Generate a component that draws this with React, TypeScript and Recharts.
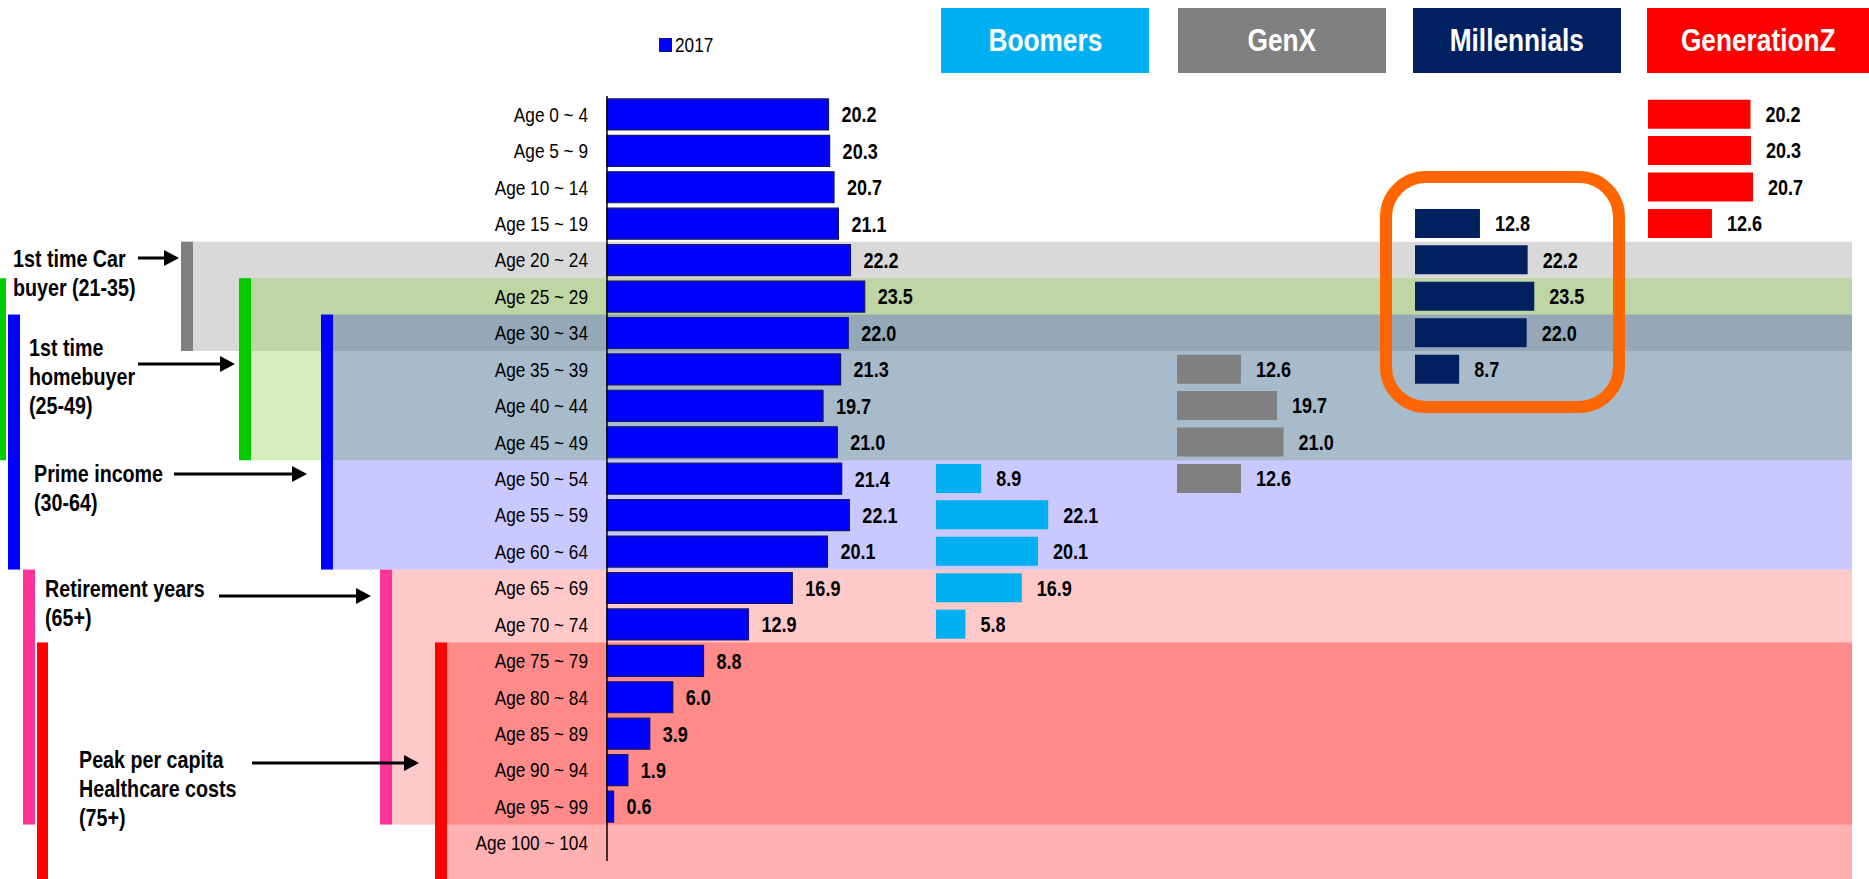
import React from "react";
import { BarChart, Bar, XAxis, YAxis, LabelList, Legend } from "recharts";

// age groups (rows), top to bottom
const ageGroups = [
  "Age 0 ~ 4", "Age 5 ~ 9", "Age 10 ~ 14", "Age 15 ~ 19", "Age 20 ~ 24",
  "Age 25 ~ 29", "Age 30 ~ 34", "Age 35 ~ 39", "Age 40 ~ 44", "Age 45 ~ 49",
  "Age 50 ~ 54", "Age 55 ~ 59", "Age 60 ~ 64", "Age 65 ~ 69", "Age 70 ~ 74",
  "Age 75 ~ 79", "Age 80 ~ 84", "Age 85 ~ 89", "Age 90 ~ 94", "Age 95 ~ 99",
  "Age 100 ~ 104",
];

// population (millions), 2017
const pop2017 = [
  20.2, 20.3, 20.7, 21.1, 22.2, 23.5, 22.0, 21.3, 19.7, 21.0, 21.4,
  22.1, 20.1, 16.9, 12.9, 8.8, 6.0, 3.9, 1.9, 0.6, null,
];
const boomersPop = [
  null, null, null, null, null, null, null, null, null, null, 8.9,
  22.1, 20.1, 16.9, 5.8, null, null, null, null, null, null,
];
const genXPop = [
  null, null, null, null, null, null, null, 12.6, 19.7, 21.0, 12.6,
  null, null, null, null, null, null, null, null, null, null,
];
const millennialsPop = [
  null, null, null, 12.8, 22.2, 23.5, 22.0, 8.7, null, null, null,
  null, null, null, null, null, null, null, null, null, null,
];
const genZPop = [
  20.2, 20.3, 20.7, 12.6, null, null, null, null, null, null, null,
  null, null, null, null, null, null, null, null, null, null,
];

const rows = ageGroups.map((age, i) => ({
  age,
  y2017: pop2017[i],
  boomers: boomersPop[i],
  genX: genXPop[i],
  millennials: millennialsPop[i],
  genZ: genZPop[i],
}));

// life stages: first / last age group (null = runs off the bottom)
const stageFrom = ["Age 20 ~ 24", "Age 25 ~ 29", "Age 30 ~ 34", "Age 65 ~ 69", "Age 75 ~ 79"];
const stageTo = ["Age 30 ~ 34", "Age 45 ~ 49", "Age 60 ~ 64", "Age 95 ~ 99", null];
const stageText = [
  ["1st time Car", "buyer (21-35)"],
  ["1st time", "homebuyer", "(25-49)"],
  ["Prime income", "(30-64)"],
  ["Retirement years", "(65+)"],
  ["Peak per capita", "Healthcare costs", "(75+)"],
];

const FONT = '"Liberation Sans", Arial, sans-serif';
const NARROW = 0.82; // no Arial Narrow here, squeeze Liberation Sans instead
const W = 1869;
const H = 879;
const TOP = 96;
const BOTTOM = 18;
const ROW_H = (H - TOP - BOTTOM) / ageGroups.length;

// annotation layer layout
const bandStyle = [
  { x: 193, fill: "#000000", op: 0.15, mark: "#808080", mx: 181, outer: null as number | null, ow: 0 },
  { x: 251, fill: "#92d050", op: 0.38, mark: "#00cc00", mx: 239, outer: 0, ow: 6 },
  { x: 333, fill: "#0000ff", op: 0.21, mark: "#0000ff", mx: 321, outer: 8, ow: 12 },
  { x: 392, fill: "#ff0000", op: 0.21, mark: "#ff3399", mx: 380, outer: 23, ow: 12 },
  { x: 447, fill: "#ff0000", op: 0.31, mark: "#ff0000", mx: 435, outer: 37, ow: 11 },
];
const textPos = [
  { x: 13, y: 258 },
  { x: 29, y: 347 },
  { x: 34, y: 473 },
  { x: 45, y: 588 },
  { x: 79, y: 759 },
];
const arrows = [
  { x1: 138, x2: 179, y: 258 },
  { x1: 138, x2: 235, y: 364 },
  { x1: 174, x2: 307, y: 474 },
  { x1: 219, x2: 371, y: 596 },
  { x1: 252, x2: 419, y: 763 },
];

const generations = [
  { key: "boomers", name: "Boomers", color: "#00b0f0", axisX: 936, box: [941, 208] },
  { key: "genX", name: "GenX", color: "#808080", axisX: 1177, box: [1178, 208] },
  { key: "millennials", name: "Millennials", color: "#002060", axisX: 1415, box: [1413, 208] },
  { key: "genZ", name: "GenerationZ", color: "#ff0000", axisX: 1648, box: [1647, 222] },
];

const rowTop = (age: string) => TOP + ageGroups.indexOf(age) * ROW_H;
const rowBottom = (age: string | null) => (age ? TOP + (ageGroups.indexOf(age) + 1) * ROW_H : H);

const fmt = (v: any) => (v == null ? "" : Number(v).toFixed(1));

const NarrowText = ({ children, origin = "left" }: { children: any; origin?: string }) => (
  <span style={{ display: "inline-block", transform: `scaleX(${NARROW})`, transformOrigin: origin, whiteSpace: "nowrap" }}>
    {children}
  </span>
);

const AgeTick = (props: any) => {
  const { x, y, payload } = props;
  return (
    <text
      transform={`translate(${x},${y}) scale(${NARROW},1)`}
      textAnchor="end"
      dy="0.355em"
      fontSize={21}
      fill="#000"
      fontFamily={FONT}
    >
      {payload.value}
    </text>
  );
};

const valueLabel = (offset: number) => (props: any) => {
  const { x, y, width, height, value } = props;
  if (value == null) return null;
  return (
    <text
      transform={`translate(${x + width + offset},${y + height / 2}) scale(${NARROW},1)`}
      dy="0.355em"
      fontSize={22}
      fontWeight={700}
      fill="#000"
      fontFamily={FONT}
    >
      {fmt(value)}
    </text>
  );
};

const LegendBox = () => (
  <div style={{ display: "flex", alignItems: "center", color: "#000", fontSize: 21, fontFamily: FONT }}>
    <span style={{ width: 11, height: 12, background: "#0000ff", border: "1px solid #16166e", marginRight: 3 }} />
    <NarrowText>2017</NarrowText>
  </div>
);

const MainPanel = () => (
  <BarChart
    width={529}
    height={H}
    data={rows}
    layout="vertical"
    margin={{ top: TOP, right: 0, bottom: BOTTOM, left: 0 }}
    barCategoryGap="8%"
  >
    <XAxis type="number" domain={[0, 30]} hide />
    <YAxis
      type="category"
      dataKey="age"
      width={200}
      interval={0}
      tickLine={false}
      tickSize={0}
      tickMargin={19}
      axisLine={{ stroke: "#000", strokeWidth: 1.5 }}
      tick={<AgeTick />}
    />
    <Legend
      layout="horizontal"
      verticalAlign="middle"
      align="center"
      content={<LegendBox />}
      wrapperStyle={{ top: 33, left: 252, width: "auto", height: "auto" }}
    />
    <Bar dataKey="y2017" name="2017" fill="#0000ff" stroke="#16166e" strokeWidth={1.2} isAnimationActive={false}>
      <LabelList dataKey="y2017" content={valueLabel(13)} />
    </Bar>
  </BarChart>
);

const GenPanel = ({ g }: { g: (typeof generations)[number] }) => (
  <BarChart
    width={203}
    height={H}
    data={rows}
    layout="vertical"
    margin={{ top: TOP, right: 0, bottom: BOTTOM, left: 0 }}
    barCategoryGap="10%"
  >
    <XAxis type="number" domain={[0, 40]} hide />
    <YAxis type="category" dataKey="age" width={0} tick={false} tickLine={false} axisLine={{ stroke: "#000", strokeWidth: 1.5 }} />
    <Bar dataKey={g.key} name={g.name} fill={g.color} isAnimationActive={false}>
      <LabelList dataKey={g.key} content={valueLabel(15)} />
    </Bar>
  </BarChart>
);

const Annotations = () => (
  <svg width={W} height={H} style={{ position: "absolute", left: 0, top: 0 }}>
    {stageFrom.map((from, i) => {
      const s = bandStyle[i];
      const y1 = rowTop(from);
      const y2 = rowBottom(stageTo[i]);
      return (
        <g key={"band" + i}>
          <rect x={s.x} y={y1} width={1852 - s.x} height={y2 - y1} fill={s.fill} fillOpacity={s.op} />
        </g>
      );
    })}
    {stageFrom.map((from, i) => {
      const s = bandStyle[i];
      const y1 = rowTop(from);
      const y2 = rowBottom(stageTo[i]);
      return (
        <g key={"mark" + i}>
          <rect x={s.mx} y={y1} width={12} height={y2 - y1} fill={s.mark} />
          {s.outer != null && <rect x={s.outer} y={y1} width={s.ow} height={y2 - y1} fill={s.mark} />}
        </g>
      );
    })}
  </svg>
);

export default function App() {
  return (
    <div
      style={{
        position: "absolute",
        left: 0,
        top: 0,
        width: W,
        height: H,
        overflow: "hidden",
        background: "#fff",
        fontFamily: FONT,
      }}
    >
      <Annotations />

      <div style={{ position: "absolute", left: 407, top: 0 }}>
        <MainPanel />
      </div>

      {generations.map((g) => (
        <div key={g.key} style={{ position: "absolute", left: g.axisX, top: 0 }}>
          <GenPanel g={g} />
        </div>
      ))}

      {generations.map((g) => (
        <div
          key={"hdr" + g.key}
          style={{
            position: "absolute",
            left: g.box[0],
            top: 8,
            width: g.box[1],
            height: 65,
            background: g.color,
            color: "#fff",
            fontWeight: 700,
            fontSize: 32,
            lineHeight: "65px",
            textAlign: "center",
          }}
        >
          <NarrowText origin="center">{g.name}</NarrowText>
        </div>
      ))}

      <div
        style={{
          position: "absolute",
          left: 1380,
          top: 171,
          width: 245,
          height: 242,
          border: "12px solid #ff6600",
          borderRadius: 46,
          boxSizing: "border-box",
        }}
      />

      {stageText.map((lines, i) => (
        <div
          key={"txt" + i}
          style={{
            position: "absolute",
            left: textPos[i].x,
            top: textPos[i].y - 14.5,
            fontSize: 24,
            fontWeight: 700,
            lineHeight: "29px",
            color: "#000",
          }}
        >
          {lines.map((l) => (
            <div key={l}>
              <NarrowText>{l}</NarrowText>
            </div>
          ))}
        </div>
      ))}

      <svg width={W} height={H} style={{ position: "absolute", left: 0, top: 0, pointerEvents: "none" }}>
        {arrows.map((a, i) => (
          <g key={"arr" + i}>
            <line x1={a.x1} y1={a.y} x2={a.x2 - 12} y2={a.y} stroke="#000" strokeWidth={3} />
            <polygon points={`${a.x2},${a.y} ${a.x2 - 15},${a.y - 8} ${a.x2 - 15},${a.y + 8}`} fill="#000" />
          </g>
        ))}
      </svg>
    </div>
  );
}
